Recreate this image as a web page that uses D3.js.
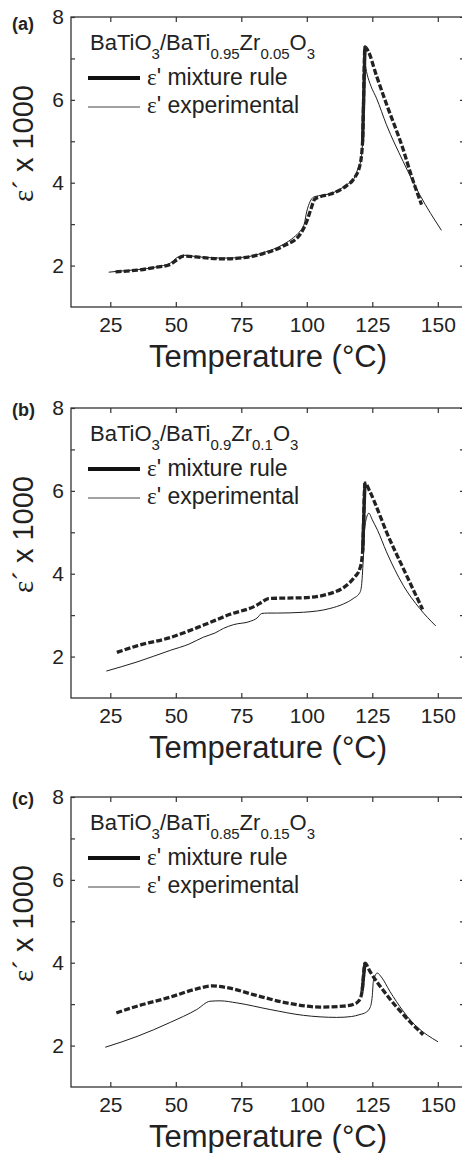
<!DOCTYPE html>
<html>
<head>
<meta charset="utf-8">
<script src="https://cdn.jsdelivr.net/npm/d3@7"></script>
<style>
  body { margin: 0; background: #fff; }
  text { font-family: "Liberation Sans", Arial, sans-serif; fill: #222; }
</style>
</head>
<body>
<script>
// axis ticks
const xTicks = [25, 50, 75, 100, 125, 150]
const yTicks = [2, 3, 4, 5, 6, 7, 8]

// (a) BaTiO3/BaTi0.95Zr0.05O3
const tempExpA = [24.4, 27.5, 35.2, 42.8, 47.9, 50.4, 52.9, 56, 60.6, 68.2, 75.8, 83.4, 91, 95, 97.4, 99, 100, 101.3, 102.5, 105, 108.8, 115.2, 118, 119.6, 120.5, 121.3, 121.8, 122.2, 123, 124.5, 126.6, 130.4, 136.8, 143.1, 151.4]
const epsExpA  = [1.84, 1.86, 1.90, 1.97, 2.06, 2.19, 2.25, 2.23, 2.20, 2.18, 2.20, 2.31, 2.51, 2.68, 2.83, 3.0, 3.31, 3.55, 3.65, 3.69, 3.73, 3.95, 4.1, 4.35, 4.5, 5.0, 6.0, 6.85, 6.62, 6.33, 6.04, 5.4, 4.51, 3.71, 2.85]
const tempMixA = [27, 35.2, 42.8, 47.9, 50.4, 52.9, 60.6, 68.2, 75.8, 83.4, 91, 97.4, 100, 101.5, 103, 105, 108.8, 115.2, 118, 120.3, 121.3, 122.2, 123.4, 126.6, 130.4, 136.8, 140, 143.8]
const epsMixA  = [1.85, 1.89, 1.96, 2.03, 2.14, 2.23, 2.19, 2.16, 2.19, 2.29, 2.47, 2.75, 3.07, 3.35, 3.6, 3.66, 3.72, 3.93, 4.1, 4.43, 5.0, 7.28, 7.18, 6.58, 5.9, 4.8, 4.15, 3.47]

// (b) BaTiO3/BaTi0.9Zr0.1O3
const tempExpB = [23.5, 35.2, 47.9, 55, 60.6, 65, 68.2, 72, 78.4, 81, 82.8, 85, 88.5, 98.7, 108.8, 114, 117.7, 120.3, 120.9, 121.5, 122, 122.8, 123.7, 125, 127, 130.4, 136.8, 143.1, 149.2]
const epsExpB  = [1.65, 1.87, 2.15, 2.30, 2.47, 2.57, 2.68, 2.77, 2.85, 2.93, 3.04, 3.05, 3.05, 3.07, 3.16, 3.27, 3.4, 3.55, 3.72, 4.3, 5.0, 5.35, 5.46, 5.3, 5.05, 4.53, 3.72, 3.16, 2.74]
const tempMixB = [27.5, 35.2, 47.9, 60.6, 70.7, 80.9, 83, 85.3, 90, 98.7, 108.8, 115.2, 118, 120.3, 121.3, 122.2, 124.1, 127, 130.4, 136.8, 144.2]
const epsMixB  = [2.1, 2.26, 2.46, 2.76, 3.02, 3.24, 3.32, 3.40, 3.41, 3.42, 3.52, 3.72, 3.9, 4.13, 4.53, 6.19, 5.98, 5.55, 5.01, 4.13, 3.14]

// (c) BaTiO3/BaTi0.85Zr0.15O3
const tempExpC = [23.1, 35.2, 47.9, 58, 63.1, 66.9, 73.3, 86, 98.7, 111.4, 117, 120.3, 122.5, 124.1, 125, 125.4, 126.9, 128.5, 131.7, 136.8, 140, 141.9, 150.1]
const epsExpC  = [1.96, 2.22, 2.56, 2.87, 3.07, 3.08, 3.03, 2.87, 2.73, 2.68, 2.70, 2.75, 2.8, 2.91, 3.2, 3.55, 3.75, 3.65, 3.31, 2.83, 2.58, 2.46, 2.09]
const tempMixC = [27.3, 35.2, 47.9, 58, 63.8, 69.5, 79.6, 92.3, 105, 113.9, 118, 120, 121.1, 122.2, 124.1, 130.4, 136.8, 144.4]
const epsMixC  = [2.79, 2.95, 3.17, 3.37, 3.44, 3.40, 3.23, 3.03, 2.93, 2.95, 3.0, 3.09, 3.31, 3.99, 3.79, 3.23, 2.75, 2.26]

let panels = [
  {tag: "(a)", top: 17, tagDy: 13, ti: "0.95", zr: "0.05", expT: tempExpA, expE: epsExpA, mixT: tempMixA, mixE: epsMixA},
  {tag: "(b)", top: 408, tagDy: 8, ti: "0.9", zr: "0.1", expT: tempExpB, expE: epsExpB, mixT: tempMixB, mixE: epsMixB},
  {tag: "(c)", top: 797, tagDy: 8, ti: "0.85", zr: "0.15", expT: tempExpC, expE: epsExpC, mixT: tempMixC, mixE: epsMixC}
]

let width = 462
let height = 1153
let plotH = 290
let left = 71, right = 464

let svg = d3.select("body")
    .append("svg")
    .attr("width", width)
    .attr("height", height)

let x = d3.scaleLinear().domain([10, 160]).range([left, right])
let y = d3.scaleLinear().domain([1, 8]).range([plotH, 0])

let line = d3.line()
    .x(function(d) { return x(d[0]) })
    .y(function(d) { return y(d[1]) })
    .curve(d3.curveMonotoneX)

panels.forEach(function(p) {
    let g = svg.append("g").attr("transform", "translate(0," + p.top + ")")

    let yFmt = function(d) { return d % 2 === 0 ? d : "" }

    // bottom / top axes, ticks inward
    g.append("g").attr("class", "axis")
        .attr("transform", "translate(0," + plotH + ")")
        .call(d3.axisBottom(x).tickValues(xTicks).tickSizeInner(-5).tickSizeOuter(0).tickPadding(10))
    g.append("g").attr("class", "axis")
        .call(d3.axisTop(x).tickValues(xTicks).tickSizeInner(-5).tickSizeOuter(0).tickFormat(""))
    g.append("g").attr("class", "axis")
        .attr("transform", "translate(" + left + ",0)")
        .call(d3.axisLeft(y).tickValues(yTicks).tickSizeInner(-4).tickSizeOuter(0).tickPadding(7).tickFormat(yFmt))
    g.append("g").attr("class", "axis")
        .attr("transform", "translate(" + right + ",0)")
        .call(d3.axisRight(y).tickValues(yTicks).tickSizeInner(-4).tickSizeOuter(0).tickFormat(""))

    g.selectAll(".axis text")
        .style("font-size", "21px")
        .style("font-family", "'Liberation Sans', Arial, sans-serif")
        .attr("fill", "#222")
    g.selectAll(".axis line").attr("stroke", "#333").attr("stroke-width", 1.2)
    g.selectAll(".axis path").attr("stroke", "none")

    // frame
    g.append("rect")
        .attr("x", left).attr("y", 0)
        .attr("width", right - left).attr("height", plotH)
        .attr("fill", "none").attr("stroke", "#333").attr("stroke-width", 1.3)

    // experimental curve
    let expPts = p.expT.map(function(t, i) { return [t, p.expE[i]] })
    g.append("path")
        .datum(expPts)
        .attr("d", line)
        .attr("fill", "none")
        .attr("stroke", "#1e1e1e")
        .attr("stroke-width", 1)

    // mixture rule curve (dashed) + the steep jump drawn solid
    let mixPts = p.mixT.map(function(t, i) { return [t, p.mixE[i]] })
    g.append("path")
        .datum(mixPts)
        .attr("d", line)
        .attr("fill", "none")
        .attr("stroke", "#222")
        .attr("stroke-width", 3.3)
        .attr("stroke-dasharray", "6,2.2")

    let rises = d3.range(mixPts.length - 1).map(function(i) { return mixPts[i + 1][1] - mixPts[i][1] })
    let j = d3.maxIndex(rises)
    g.append("path")
        .datum([mixPts[j], mixPts[j + 1]])
        .attr("d", d3.line().x(function(d) { return x(d[0]) }).y(function(d) { return y(d[1]) }))
        .attr("fill", "none")
        .attr("stroke", "#222")
        .attr("stroke-width", 3.3)

    // legend
    let title = g.append("text").attr("x", 90).attr("y", 33).style("font-size", "22px")
    let parts = [["BaTiO", 0], ["3", 1], ["/BaTi", 0], [p.ti, 1], ["Zr", 0], [p.zr, 1], ["O", 0], ["3", 1]]
    let prev = 0
    parts.forEach(function(q) {
        let shift = q[1] ? 8.5 : 0
        title.append("tspan")
            .attr("dy", shift - prev)
            .style("font-size", q[1] ? "15px" : "22px")
            .text(q[0])
        prev = shift
    })

    g.append("line")
        .attr("x1", 88).attr("x2", 140).attr("y1", 61).attr("y2", 61)
        .attr("stroke", "#111").attr("stroke-width", 4)
    g.append("line")
        .attr("x1", 88).attr("x2", 140).attr("y1", 90).attr("y2", 90)
        .attr("stroke", "#444").attr("stroke-width", 1)

    let l1 = g.append("text").attr("x", 147).attr("y", 68).style("font-size", "23px")
    l1.append("tspan").style("font-family", "'Liberation Serif', serif").text("ε")
    l1.append("tspan").text("' mixture rule")
    let l2 = g.append("text").attr("x", 147).attr("y", 96).style("font-size", "23px")
    l2.append("tspan").style("font-family", "'Liberation Serif', serif").text("ε")
    l2.append("tspan").text("' experimental")

    // panel tag
    g.append("text")
        .attr("x", 12).attr("y", p.tagDy)
        .style("font-size", "18px").style("font-weight", "bold")
        .text(p.tag)

    // axis titles
    g.append("text")
        .attr("x", 268).attr("y", plotH + 60)
        .attr("text-anchor", "middle")
        .style("font-size", "31px")
        .text("Temperature (°C)")

    let yl = g.append("text")
        .attr("transform", "translate(33," + 68 + ") rotate(-90)")
        .attr("text-anchor", "end")
        .style("font-size", "29px")
    yl.append("tspan").style("font-family", "'Liberation Serif', serif").text("ε´")
    yl.append("tspan").text(" x 1000")
})
</script>
</body>
</html>
